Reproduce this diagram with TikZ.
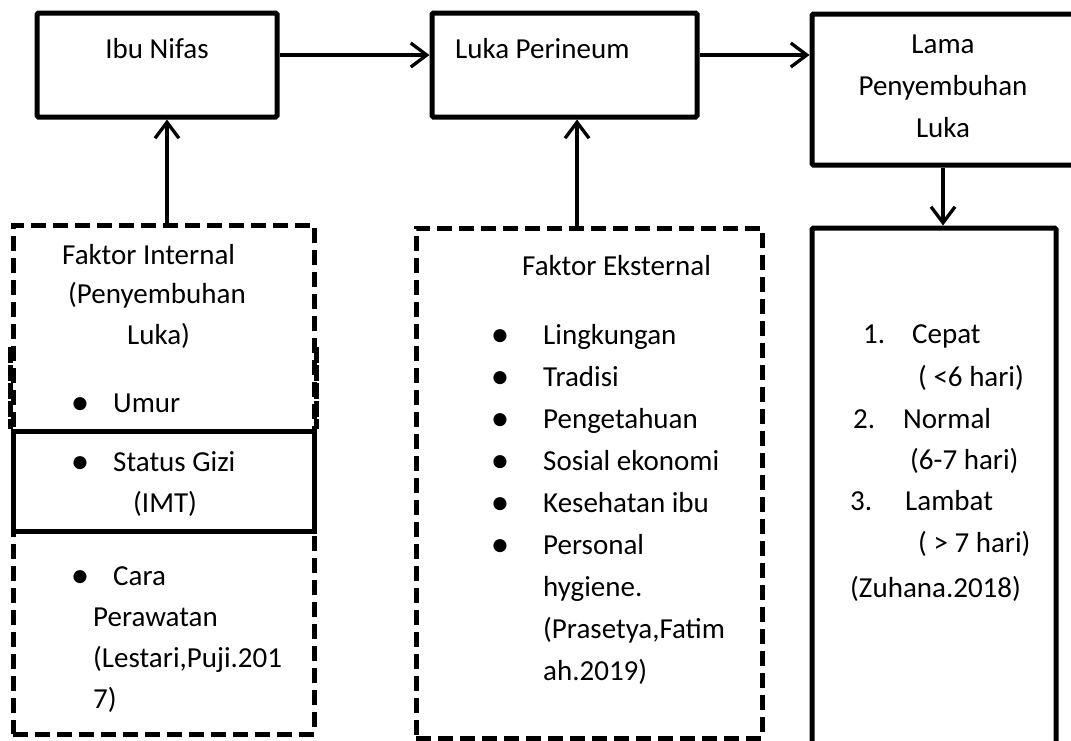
\documentclass[tikz,border=0pt]{standalone}
\usepackage{fontspec}
\setmainfont{Carlito}
\usetikzlibrary{arrows.meta}
\begin{document}
\begin{tikzpicture}[x=1pt,y=-1pt,
  solidbox/.style={draw, line width=5pt, rounded corners=1.5pt, inner sep=0pt},
  dashbox/.style={draw, line width=5pt, dash pattern=on 15pt off 7pt, inner sep=0pt},
  conn/.style={line width=3.3pt, -{Straight Barb[length=16pt,width=24pt,line width=3.3pt]}},
  txt/.style={anchor=base west, inner sep=0pt, font=\fontsize{29}{35}\selectfont},
  ctxt/.style={anchor=base, inner sep=0pt, font=\fontsize{29}{35}\selectfont},
  bul/.style={anchor=base, inner sep=0pt, font=\fontsize{37}{40}\selectfont}]
\useasboundingbox (0,0) rectangle (1071,740);
% top row boxes
\node[solidbox, minimum width=240pt, minimum height=104pt] (ibu) at (157,65) {};
\node[solidbox, minimum width=265pt, minimum height=104pt] (luka) at (564.5,65) {};
\node[solidbox, minimum width=270pt, minimum height=151pt] (lama) at (947,89.5) {};
% lower boxes
\node[dashbox, minimum width=301pt, minimum height=509pt] (intern) at (163.5,479.5) {};
\node[dashbox, minimum width=346pt, minimum height=510pt] (extern) at (589,483) {};
\node[solidbox, minimum width=244pt, minimum height=600pt] (hasil) at (934,528) {};
\node[draw, line width=5pt, inner sep=0pt, minimum width=301pt, minimum height=100pt] (gizi) at (163.5,481) {};
\draw[line width=5pt, dash pattern=on 16pt off 2pt] (intern.west |- 0,347) -- (intern.west |- gizi.north);
\draw[line width=5pt, dash pattern=on 16pt off 2pt] (intern.east |- 0,347) -- (intern.east |- gizi.north);
% connector coordinates
\coordinate (rowy) at (0,55);
\coordinate (ax1) at (167,0);
\coordinate (ax2) at (577,0);
\coordinate (ax3) at (943,0);
\draw[conn] (ibu.east |- rowy) -- (luka.west |- rowy);
\draw[conn] (luka.east |- rowy) -- (lama.west |- rowy);
\draw[conn] (intern.north -| ax1) -- (ibu.south -| ax1);
\draw[conn] (extern.north -| ax2) -- (luka.south -| ax2);
\draw[conn] (lama.south -| ax3) -- (hasil.north -| ax3);
% top texts
\node[ctxt] (t1) at (157,58) {Ibu Nifas};
\node[txt] (t2) at (455,58) {Luka Perineum};
\node[ctxt] (t3a) at (943,53) {Lama};
\node[ctxt] (t3b) at (943,95) {Penyembuhan};
\node[ctxt] (t3c) at (943,137) {Luka};
% internal factors
\node[txt] (i1) at (62,264) {Faktor Internal};
\node[txt] (i2) at (68,303) {(Penyembuhan};
\node[txt] (i3) at (127,344) {Luka)};
\node[bul] (ib1) at (80,414) {•};
\node[txt] (i4) at (113,412) {Umur};
\node[bul] (ib2) at (80,473) {•};
\node[txt] (i5) at (113,471) {Status Gizi};
\node[txt] (i6) at (133,512) {(IMT)};
\node[bul] (ib3) at (80,587) {•};
\node[txt] (i7) at (113,585) {Cara};
\node[txt] (i8) at (93,626) {Perawatan};
\node[txt] (i9) at (93,667) {(Lestari,Puji.201};
\node[txt] (i10) at (93,708) {7)};
% external factors
\node[txt] (e0) at (522,275) {Faktor Eksternal};
\foreach \yy/\tt [count=\k] in {344/Lingkungan,386/Tradisi,428/Pengetahuan,470/Sosial ekonomi,512/Kesehatan ibu,554/Personal}{
  \node[bul] (eb\k) at (500,\yy+2) {•};
  \node[txt] (e\k) at (543,\yy) {\tt};
}
\node[txt] (e7) at (543,596) {hygiene.};
\node[txt] (e8) at (543,638) {(Prasetya,Fatim};
\node[txt] (e9) at (543,680) {ah.2019)};
% results
\node[txt] (n1) at (863,343) {1.};
\node[txt] (r1) at (912,343) {Cepat};
\node[txt] (r1b) at (918,386) {( <6 hari)};
\node[txt] (n2) at (853,428) {2.};
\node[txt] (r2) at (903,428) {Normal};
\node[txt] (r2b) at (910,469) {(6-7 hari)};
\node[txt] (n3) at (850,510) {3.};
\node[txt] (r3) at (905,510) {Lambat};
\node[txt] (r3b) at (918,552) {( > 7 hari)};
\node[txt] (r4) at (850,597) {(Zuhana.2018)};
\end{tikzpicture}
\end{document}
